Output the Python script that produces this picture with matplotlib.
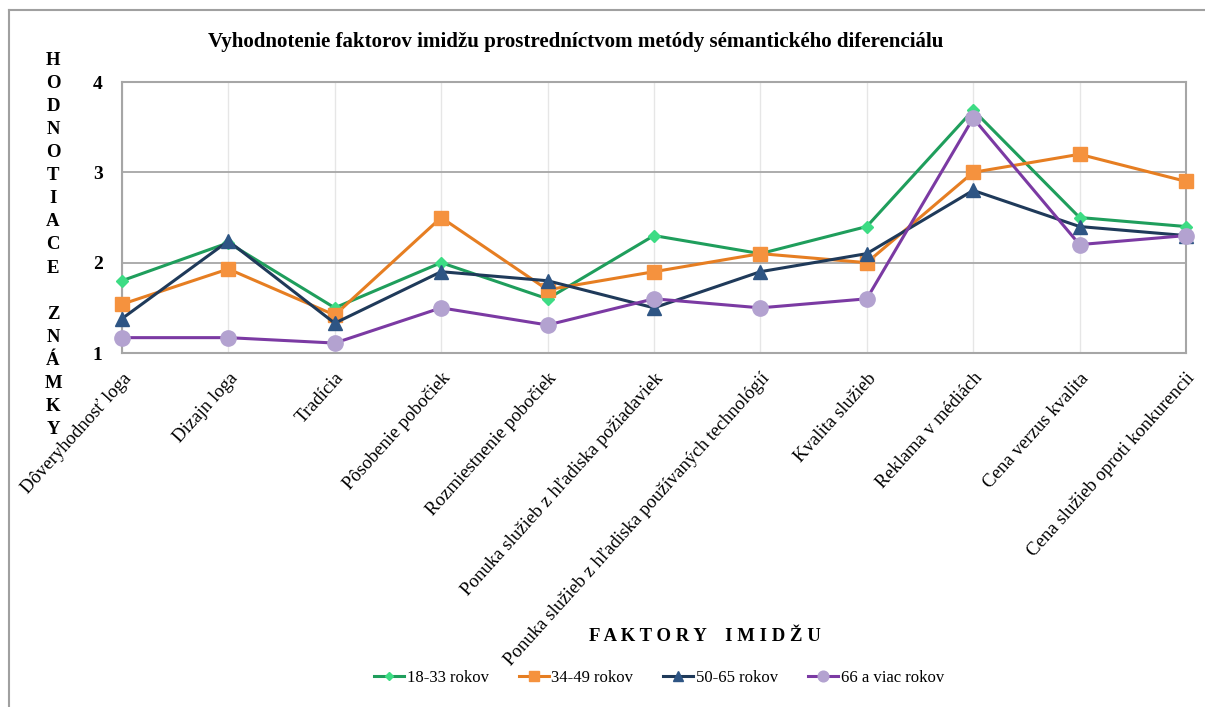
import matplotlib.pyplot as plt
from matplotlib.lines import Line2D

plt.rcParams['font.family'] = ['Liberation Serif', 'DejaVu Serif']

faktory = ["Dôveryhodnosť loga", "Dizajn loga", "Tradícia", "Pôsobenie pobočiek",
           "Rozmiestnenie pobočiek", "Ponuka služieb z hľadiska požiadaviek",
           "Ponuka služieb z hľadiska používaných technológií", "Kvalita služieb",
           "Reklama v médiách", "Cena verzus kvalita", "Cena služieb oproti konkurencii"]

vek_18_33 = [1.80, 2.22, 1.50, 2.00, 1.60, 2.30, 2.10, 2.40, 3.69, 2.50, 2.40]
vek_34_49 = [1.54, 1.93, 1.42, 2.50, 1.70, 1.90, 2.10, 2.00, 3.00, 3.20, 2.90]
vek_50_65 = [1.38, 2.24, 1.33, 1.90, 1.80, 1.50, 1.90, 2.10, 2.80, 2.40, 2.30]
vek_66 = [1.17, 1.17, 1.11, 1.50, 1.31, 1.60, 1.50, 1.60, 3.60, 2.20, 2.30]

serie = [
    ("18-33 rokov", vek_18_33, "#1f9e5c", "D", "#3ddc84", 6),
    ("34-49 rokov", vek_34_49, "#e67e22", "s", "#f5923e", 10),
    ("50-65 rokov", vek_50_65, "#1f3a5a", "^", "#2e5584", 10),
    ("66 a viac rokov", vek_66, "#7b3aa3", "o", "#b3a2d0", 11),
]

fig = plt.figure(figsize=(12.05, 7.07), dpi=100)
ax = fig.add_axes([0.1012, 0.5007, 0.8830, 0.3833])

x = range(len(faktory))
handles = []
for nazov, hodnoty, farba, znacka, vypln, velkost in serie:
    h, = ax.plot(x, hodnoty, color=farba, lw=2.2, marker=znacka, ms=velkost,
                 markerfacecolor=vypln, markeredgecolor=vypln, label=nazov,
                 clip_on=False, zorder=3)
    handles.append(h)

ax.set_xlim(0, len(faktory) - 1)
ax.set_ylim(1, 4)
ax.set_yticks([1, 2, 3, 4])
ax.set_yticklabels(["1", "2", "3", "4"], fontsize=14, fontweight="bold")
ax.set_xticks(list(x))
ax.set_xticklabels(faktory, rotation=48, ha="right", rotation_mode="anchor", fontsize=13.5)
ax.tick_params(axis="both", length=0)
ax.tick_params(axis="y", pad=14)
ax.tick_params(axis="x", pad=12)

ax.grid(axis="y", color="#a6a6a6", lw=1.3)
ax.grid(axis="x", color="#e6e6e6", lw=1)
ax.set_axisbelow(True)
for s in ax.spines.values():
    s.set_color("#a6a6a6")
    s.set_linewidth(1.5)

# outer frame of the chart area
fig.add_artist(Line2D([0.0075, 1.0], [0.986, 0.986], color="#a0a0a0", lw=1.5))
fig.add_artist(Line2D([0.0075, 0.0075], [0.0, 0.986], color="#a0a0a0", lw=1.5))

fig.text(0.478, 0.941, "Vyhodnotenie faktorov imidžu prostredníctvom metódy sémantického diferenciálu",
         ha="center", va="center", fontsize=15.1, fontweight="bold")

pismena = list("HODNOTIACE") + [""] + list("ZNÁMKY")
fig.text(0.044, 0.927, "\n".join(pismena), ha="center", va="top",
         fontsize=13.5, fontweight="bold", linespacing=1.47)

fig.text(0.585, 0.1, "F A K T O R Y    I M I D Ž U", ha="center", va="center",
         fontsize=13.5, fontweight="bold")

fig.legend(handles=handles, loc="center", bbox_to_anchor=(0.547, 0.041), ncol=4,
           frameon=False, fontsize=12, handlelength=1.8, handletextpad=0.15,
           columnspacing=1.8, markerscale=0.7)

fig.savefig("out.png", dpi=100)
